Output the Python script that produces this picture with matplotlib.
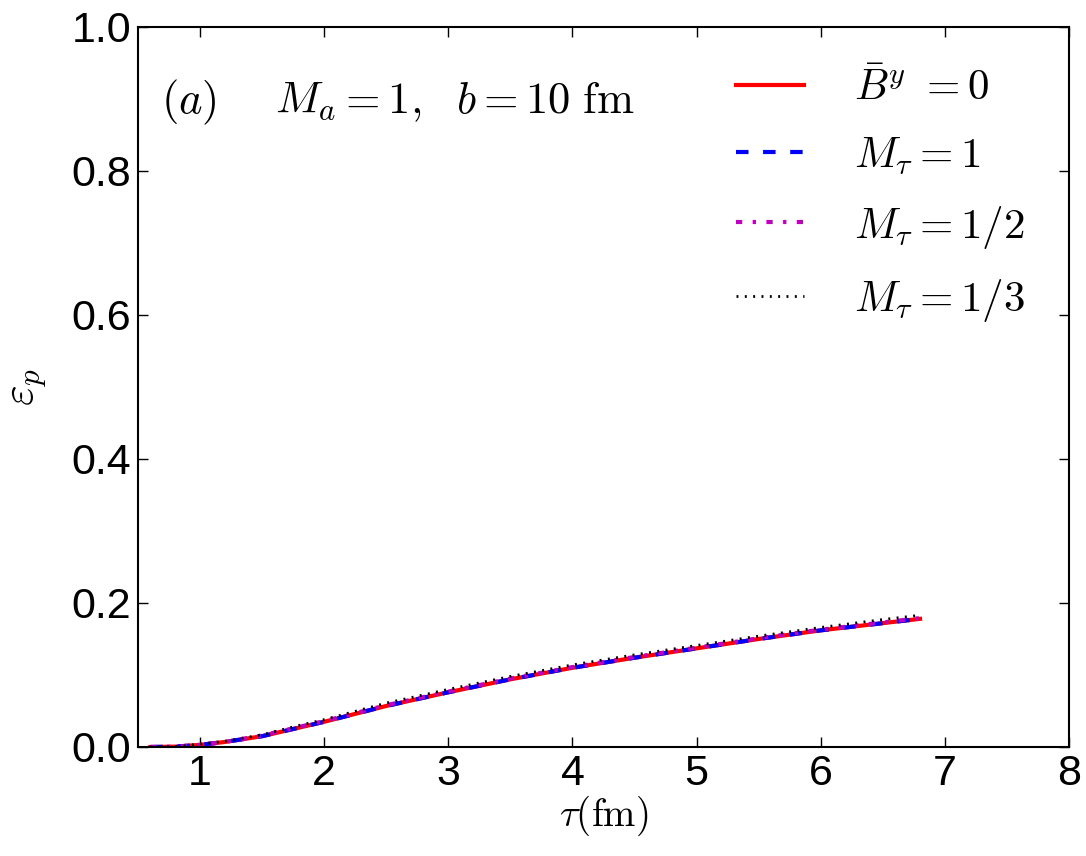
import matplotlib
matplotlib.use("Agg")
import matplotlib.pyplot as plt
import numpy as np

plt.rcParams['mathtext.fontset'] = 'cm'
plt.rcParams['font.family'] = ['Liberation Sans', 'DejaVu Sans']

tau = [0.6, 0.8, 1.0, 1.2, 1.5, 1.8, 2.0, 2.5, 3.0, 3.5, 4.0, 4.5, 5.0, 5.5, 6.0, 6.5, 6.8]
eps_B0 = [0.0, 0.0005, 0.003, 0.007, 0.015, 0.027, 0.035, 0.057, 0.076, 0.094, 0.110, 0.124, 0.137, 0.150, 0.162, 0.172, 0.178]
eps_M1 = [0.0, 0.0005, 0.003, 0.007, 0.015, 0.027, 0.035, 0.057, 0.076, 0.094, 0.110, 0.124, 0.137, 0.150, 0.162, 0.172, 0.178]
eps_M12 = [0.0, 0.0005, 0.003, 0.007, 0.016, 0.028, 0.036, 0.058, 0.077, 0.095, 0.111, 0.125, 0.138, 0.151, 0.163, 0.173, 0.179]
eps_M13 = [0.0, 0.0006, 0.004, 0.008, 0.017, 0.030, 0.038, 0.061, 0.080, 0.098, 0.114, 0.128, 0.141, 0.154, 0.166, 0.177, 0.183]

labels = [r'$\bar{B}^y\ =0$', r'$M_\tau=1$', r'$M_\tau=1/2$', r'$M_\tau=1/3$']

fig = plt.figure(figsize=(10.86, 8.56), dpi=100)
ax = fig.add_axes([138/1086, 1-747/856, (1069-138)/1086, (747-27)/856])

ax.plot(tau, eps_B0, color='red', lw=3, ls='-', label=labels[0])
ax.plot(tau, eps_M1, color='blue', lw=3, ls=(0, (3, 3.5)), label=labels[1])
ax.plot(tau, eps_M12, color='m', lw=3, ls=(0, (1.5, 2.5, 0.8, 2.5)), label=labels[2])
ax.plot(tau, eps_M13, color='black', lw=2, ls=(0, (0.7, 2.3)), label=labels[3])

ax.set_xlim(0.5, 8)
ax.set_ylim(0, 1.0)
ax.set_xticks([1, 2, 3, 4, 5, 6, 7, 8])
ax.set_yticks([0.0, 0.2, 0.4, 0.6, 0.8, 1.0])
ax.set_yticklabels(['0.0', '0.2', '0.4', '0.6', '0.8', '1.0'])
ax.tick_params(direction='in', length=7, width=1, top=True, right=True, labelsize=31, pad=5)
for s in ax.spines.values():
    s.set_linewidth(1.5)

ax.set_xlabel(r'$\tau(\mathrm{fm})$', fontsize=28, labelpad=0)
ax.set_ylabel(r'$\varepsilon_p$', fontsize=32, labelpad=16)

ax.text(0.025, 0.895, r'$(a)\quad\;\, M_a=1,\ \ b=10\ \mathrm{fm}$', transform=ax.transAxes,
        fontsize=32, va='center', ha='left')

leg = ax.legend(loc='upper right', frameon=False, fontsize=31, handlelength=1.6,
                handletextpad=1.15, labelspacing=0.62, bbox_to_anchor=(0.985, 0.985), borderaxespad=0.3)

fig.savefig('out.png', dpi=100)
